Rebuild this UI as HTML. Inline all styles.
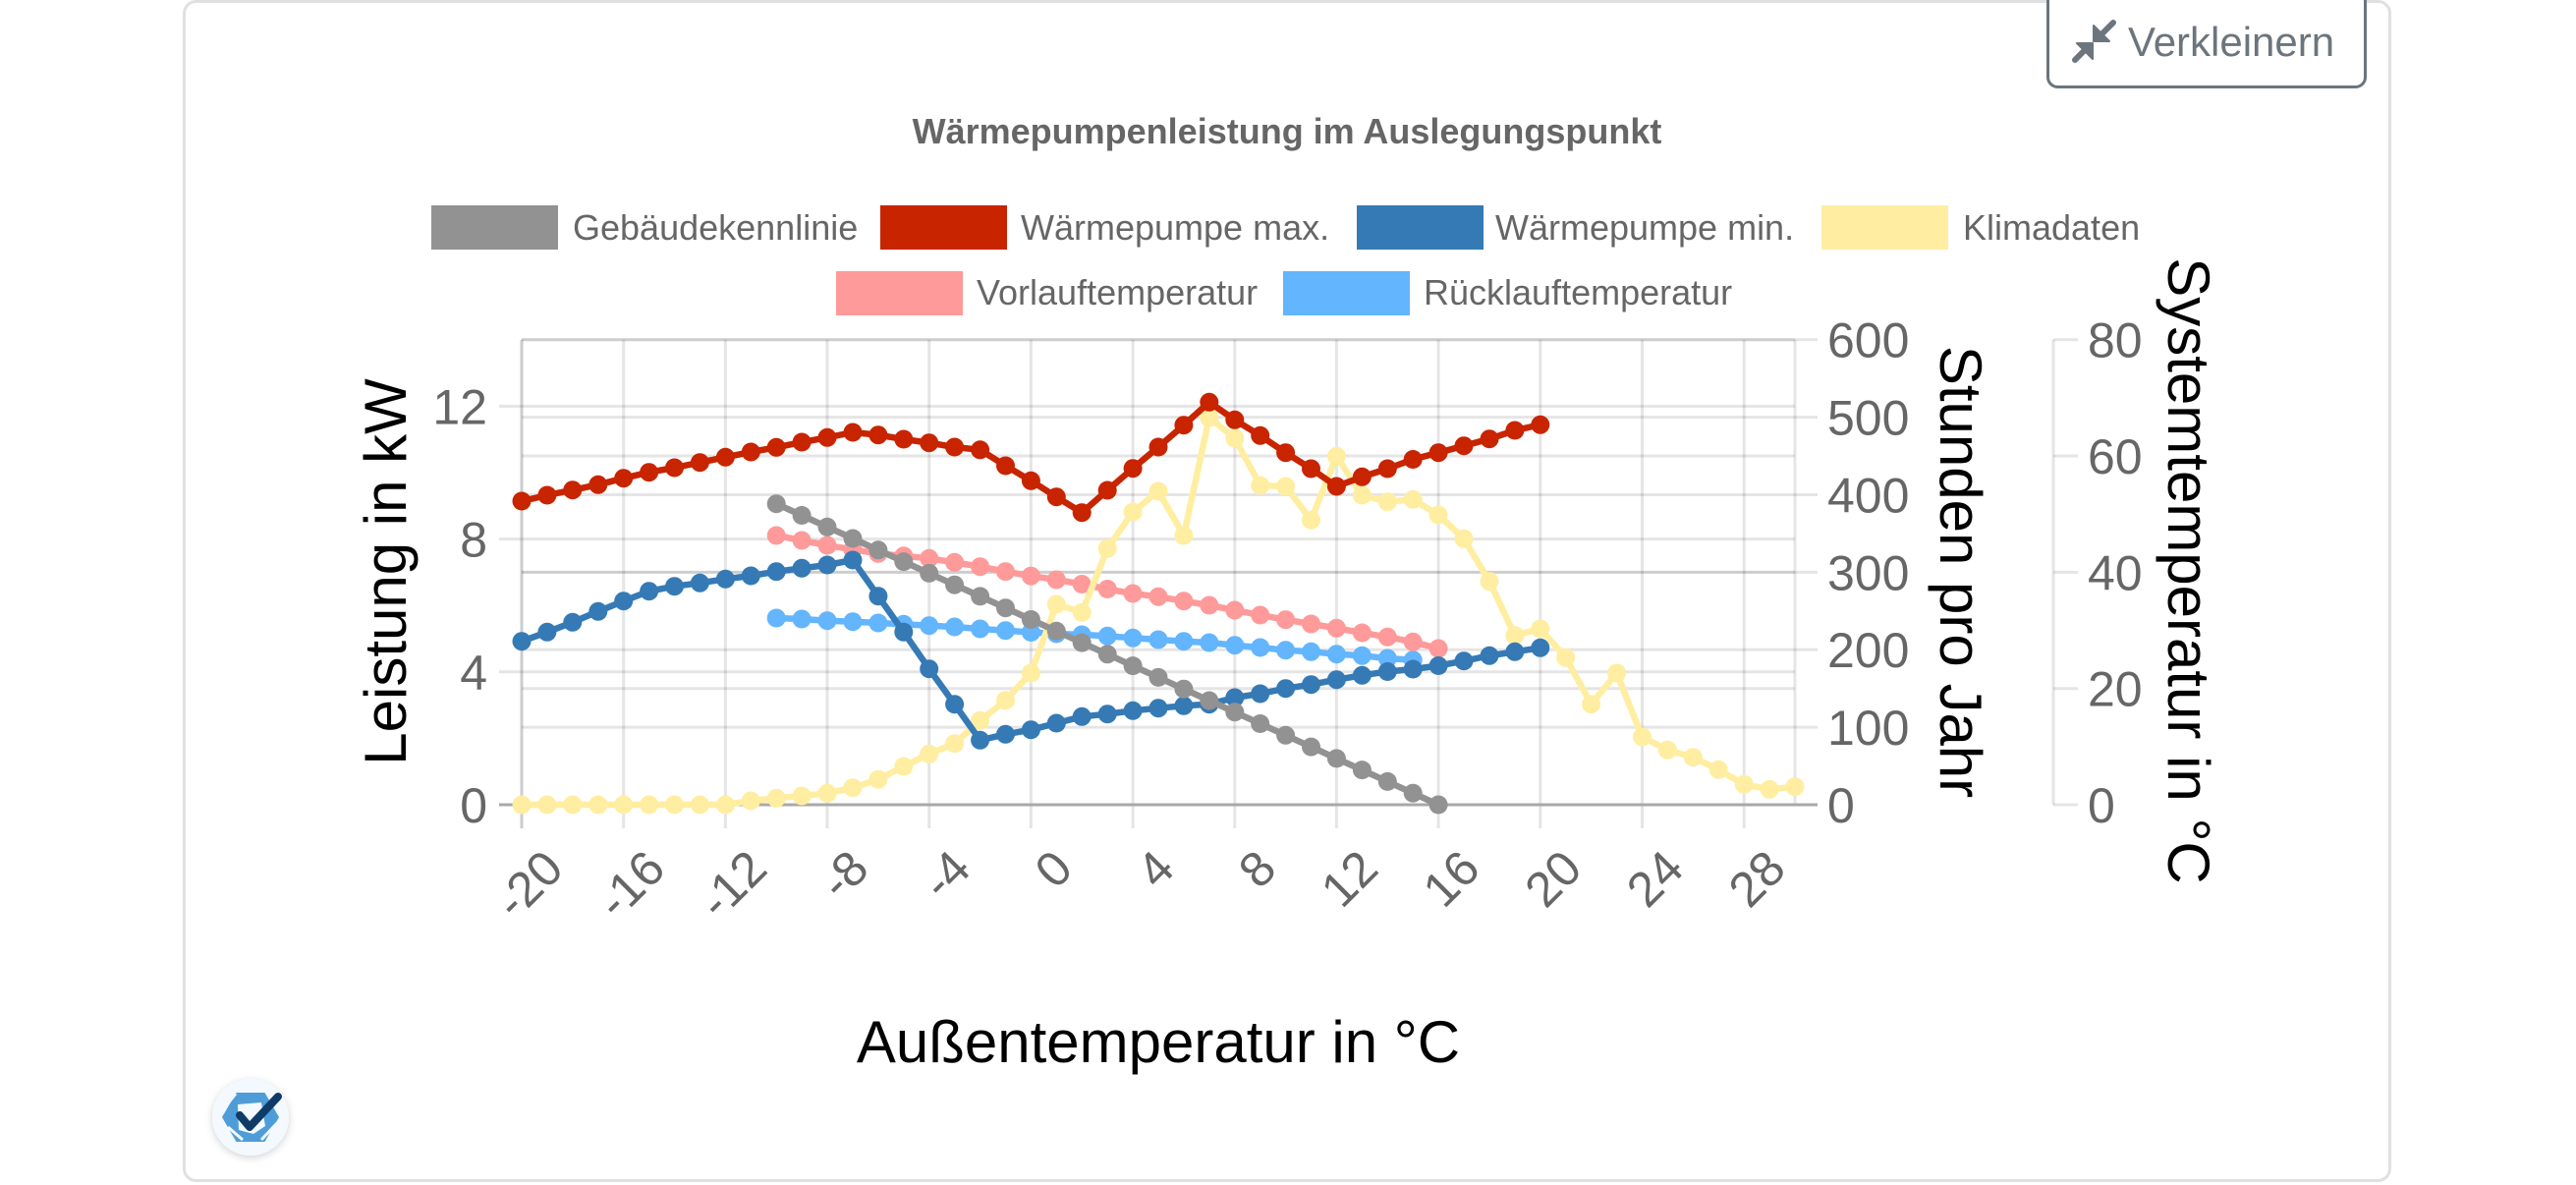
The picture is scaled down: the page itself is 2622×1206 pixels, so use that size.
<!DOCTYPE html>
<html>
<head>
<meta charset="utf-8">
<style>
  html,body{margin:0;padding:0;background:#fff;}
  body{width:2622px;height:1206px;overflow:hidden;}
  svg{display:block;}
  text{font-family:"Liberation Sans",Arial,sans-serif;}
</style>
</head>
<body>
<svg width="2622" height="1206" viewBox="0 0 2622 1206" xmlns="http://www.w3.org/2000/svg">
  <defs>
    <marker id="mGray" markerWidth="22" markerHeight="22" refX="11" refY="11" markerUnits="userSpaceOnUse"><circle cx="11" cy="11" r="9.5" fill="#929292"/></marker>
    <marker id="mRed" markerWidth="22" markerHeight="22" refX="11" refY="11" markerUnits="userSpaceOnUse"><circle cx="11" cy="11" r="9.5" fill="#c82400"/></marker>
    <marker id="mBlue" markerWidth="22" markerHeight="22" refX="11" refY="11" markerUnits="userSpaceOnUse"><circle cx="11" cy="11" r="9.5" fill="#357ab5"/></marker>
    <marker id="mYel" markerWidth="22" markerHeight="22" refX="11" refY="11" markerUnits="userSpaceOnUse"><circle cx="11" cy="11" r="9.5" fill="#ffeea1"/></marker>
    <marker id="mPink" markerWidth="22" markerHeight="22" refX="11" refY="11" markerUnits="userSpaceOnUse"><circle cx="11" cy="11" r="9.5" fill="#ff9a9a"/></marker>
    <marker id="mLBlue" markerWidth="22" markerHeight="22" refX="11" refY="11" markerUnits="userSpaceOnUse"><circle cx="11" cy="11" r="9.5" fill="#63b5fd"/></marker>
    <filter id="sh" x="-50%" y="-50%" width="200%" height="200%">
      <feDropShadow dx="0" dy="2" stdDeviation="4" flood-color="#000" flood-opacity="0.18"/>
    </filter>
  </defs>

  <!-- card -->
  <rect x="187.5" y="1.5" width="2245" height="1200" rx="12" ry="12" fill="#fff" stroke="#e0e0e0" stroke-width="3"/>

  <!-- button -->
  <rect x="2084.5" y="-12" width="323" height="100.5" rx="10" ry="10" fill="#fff" stroke="#6c757d" stroke-width="3"/>
  <g fill="#6c757d" stroke="#6c757d">
    <line x1="2151" y1="23" x2="2138" y2="36" stroke-width="6" stroke-linecap="round"/>
    <polygon points="2131,26 2131,42 2147,42" stroke-width="2" stroke-linejoin="round"/>
    <line x1="2112" y1="61" x2="2124" y2="49" stroke-width="6" stroke-linecap="round"/>
    <polygon points="2114,44 2130,44 2130,60" stroke-width="2" stroke-linejoin="round"/>
  </g>
  <text x="2166" y="57" font-size="42" fill="#6c757d">Verkleinern</text>

  <!-- title -->
  <text x="1310" y="146" font-size="36" font-weight="bold" fill="#666" text-anchor="middle">Wärmepumpenleistung im Auslegungspunkt</text>

  <!-- legend -->
  <g font-size="36" fill="#666">
    <rect x="439" y="209" width="129" height="45" fill="#929292"/>
    <text x="583" y="244">Gebäudekennlinie</text>
    <rect x="896" y="209" width="129" height="45" fill="#c82400"/>
    <text x="1039" y="244">Wärmepumpe max.</text>
    <rect x="1381" y="209" width="129" height="45" fill="#357ab5"/>
    <text x="1522" y="244">Wärmepumpe min.</text>
    <rect x="1854" y="209" width="129" height="45" fill="#ffeea1"/>
    <text x="1998" y="244">Klimadaten</text>
    <rect x="851" y="276" width="129" height="45" fill="#ff9a9a"/>
    <text x="994" y="310">Vorlauftemperatur</text>
    <rect x="1306" y="276" width="129" height="45" fill="#63b5fd"/>
    <text x="1449" y="310">Rücklauftemperatur</text>
  </g>

  <!-- grid -->
  <g stroke="rgba(0,0,0,0.1)" stroke-width="3" fill="none">
    <!-- left axis gridlines -->
    <line x1="508" y1="413.4" x2="1827" y2="413.4"/>
    <line x1="508" y1="548.6" x2="1827" y2="548.6"/>
    <line x1="508" y1="683.8" x2="1827" y2="683.8"/>
    <!-- middle axis gridlines -->
    <line x1="531" y1="345.7" x2="1850" y2="345.7"/>
    <line x1="531" y1="424.6" x2="1850" y2="424.6"/>
    <line x1="531" y1="503.5" x2="1850" y2="503.5"/>
    <line x1="531" y1="582.4" x2="1850" y2="582.4"/>
    <line x1="531" y1="661.2" x2="1850" y2="661.2"/>
    <line x1="531" y1="740.1" x2="1850" y2="740.1"/>
    <!-- right axis gridlines -->
    <line x1="531" y1="345.7" x2="1827" y2="345.7"/>
    <line x1="531" y1="464.0" x2="1827" y2="464.0"/>
    <line x1="531" y1="582.4" x2="1827" y2="582.4"/>
    <line x1="531" y1="700.7" x2="1827" y2="700.7"/>
    <line x1="2090" y1="345.7" x2="2115" y2="345.7"/>
    <line x1="2090" y1="464.0" x2="2115" y2="464.0"/>
    <line x1="2090" y1="582.4" x2="2115" y2="582.4"/>
    <line x1="2090" y1="700.7" x2="2115" y2="700.7"/>
    <line x1="2090" y1="819" x2="2115" y2="819"/>
    <line x1="2090" y1="345.7" x2="2090" y2="819"/>
    <!-- vertical -->
    <line x1="531" y1="345.7" x2="531" y2="843"/>
    <line x1="531" y1="345.7" x2="531" y2="843"/>
    <line x1="634.7" y1="345.7" x2="634.7" y2="843"/>
    <line x1="738.4" y1="345.7" x2="738.4" y2="843"/>
    <line x1="842" y1="345.7" x2="842" y2="843"/>
    <line x1="945.7" y1="345.7" x2="945.7" y2="843"/>
    <line x1="1049.4" y1="345.7" x2="1049.4" y2="843"/>
    <line x1="1153.1" y1="345.7" x2="1153.1" y2="843"/>
    <line x1="1256.8" y1="345.7" x2="1256.8" y2="843"/>
    <line x1="1360.4" y1="345.7" x2="1360.4" y2="843"/>
    <line x1="1464.1" y1="345.7" x2="1464.1" y2="843"/>
    <line x1="1567.8" y1="345.7" x2="1567.8" y2="843"/>
    <line x1="1671.5" y1="345.7" x2="1671.5" y2="843"/>
    <line x1="1775.2" y1="345.7" x2="1775.2" y2="843"/>
    <line x1="1827" y1="345.7" x2="1827" y2="819"/>
  </g>
  <line x1="508" y1="819" x2="1850" y2="819" stroke="#a8a8a8" stroke-width="3"/>

  <!-- series (bottom to top) -->
  <g fill="none" stroke-width="6.5" stroke-linejoin="round">
    <polyline stroke="#63b5fd" marker-start="url(#mLBlue)" marker-mid="url(#mLBlue)" marker-end="url(#mLBlue)"
      points="790.2,629 816.1,630 842,631.7 868,632.7 893.9,634 919.8,635.3 945.7,636.7 971.6,638 997.6,640 1023.5,641.7 1049.4,643.5 1075.3,645 1101.2,646 1127.2,647.3 1153.1,649.3 1179,651 1204.9,652.7 1230.8,654 1256.8,656.7 1282.7,659 1308.6,661.7 1334.5,663.3 1360.4,665.7 1386.4,667.3 1412.3,670 1438.2,671.7"/>
    <polyline stroke="#ff9a9a" marker-start="url(#mPink)" marker-mid="url(#mPink)" marker-end="url(#mPink)"
      points="790.2,545 816.1,550 842,555 868,559.3 893.9,563.3 919.8,565.8 945.7,568.3 971.6,572.3 997.6,576.7 1023.5,581.7 1049.4,586.2 1075.3,590 1101.2,594.5 1127.2,599.5 1153.1,604 1179,607.3 1204.9,611.7 1230.8,616 1256.8,621 1282.7,626 1308.6,630.7 1334.5,635 1360.4,639.3 1386.4,644 1412.3,648.3 1438.2,653.3 1464.1,660"/>
    <polyline stroke="#ffeea1" marker-start="url(#mYel)" marker-mid="url(#mYel)" marker-end="url(#mYel)"
      points="531,819 556.9,819 582.8,819 608.8,819 634.7,819 660.6,819 686.5,819 712.4,819 738.4,819 764.3,815 790.2,812.3 816.1,810 842,807.3 868,801.7 893.9,793.3 919.8,780 945.7,767.3 971.6,756.7 997.6,733.3 1023.5,712.7 1049.4,685 1075.3,615 1101.2,623.3 1127.2,558.3 1153.1,521 1179,500 1204.9,545 1230.8,425 1256.8,446 1282.7,494 1308.6,495 1334.5,529.3 1360.4,464.3 1386.4,504 1412.3,510.7 1438.2,508.3 1464.1,524 1490,548.3 1516,591.7 1541.9,646.7 1567.8,640 1593.7,669.3 1619.6,716.7 1645.6,685 1671.5,750 1697.4,763.3 1723.3,770.7 1749.2,783.3 1775.2,798.3 1801.1,803.3 1827,800.7"/>
    <polyline stroke="#357ab5" marker-start="url(#mBlue)" marker-mid="url(#mBlue)" marker-end="url(#mBlue)"
      points="531,652.7 556.9,643.3 582.8,633.3 608.8,622.3 634.7,611.7 660.6,601.7 686.5,596.7 712.4,593.3 738.4,589.3 764.3,586 790.2,581.7 816.1,578.3 842,575 868,570 893.9,606.7 919.8,643.3 945.7,680.7 971.6,716.7 997.6,753.3 1023.5,747.3 1049.4,742.7 1075.3,736 1101.2,729.3 1127.2,726.7 1153.1,723.3 1179,720.7 1204.9,718.3 1230.8,716.7 1256.8,710 1282.7,706 1308.6,700.7 1334.5,696.7 1360.4,691.7 1386.4,687.3 1412.3,683.5 1438.2,681 1464.1,677.5 1490,672.7 1516,667.3 1541.9,663.3 1567.8,659.3"/>
    <polyline stroke="#c82400" marker-start="url(#mRed)" marker-mid="url(#mRed)" marker-end="url(#mRed)"
      points="531,510 556.9,504 582.8,498.7 608.8,493.3 634.7,486.7 660.6,480.7 686.5,476 712.4,470.7 738.4,465.3 764.3,460 790.2,455.3 816.1,450 842,445.3 868,440 893.9,442.7 919.8,447 945.7,450.7 971.6,455 997.6,457.8 1023.5,474 1049.4,489.3 1075.3,505.7 1101.2,521.7 1127.2,499 1153.1,476.7 1179,455 1204.9,432.7 1230.8,409.3 1256.8,427.3 1282.7,443.3 1308.6,460.7 1334.5,477 1360.4,495 1386.4,485.3 1412.3,477 1438.2,467.5 1464.1,460.7 1490,453.7 1516,446.7 1541.9,438 1567.8,432.3"/>
    <polyline stroke="#929292" marker-start="url(#mGray)" marker-mid="url(#mGray)" marker-end="url(#mGray)"
      points="790.2,512.7 816.1,524.5 842,536.3 868,548 893.9,559.8 919.8,571.6 945.7,583.4 971.6,595.2 997.6,606.9 1023.5,618.7 1049.4,630.5 1075.3,642.3 1101.2,654.1 1127.2,665.8 1153.1,677.6 1179,689.4 1204.9,701.2 1230.8,713 1256.8,724.7 1282.7,736.5 1308.6,748.3 1334.5,760.1 1360.4,771.9 1386.4,783.6 1412.3,795.4 1438.2,807.2 1464.1,819"/>
  </g>

  <!-- left axis labels -->
  <g font-size="50" fill="#666" text-anchor="end">
    <text x="496" y="431.4">12</text>
    <text x="496" y="566.6">8</text>
    <text x="496" y="701.8">4</text>
    <text x="496" y="837">0</text>
  </g>
  <!-- middle axis labels -->
  <g font-size="50" fill="#666">
    <text x="1860" y="363.7">600</text>
    <text x="1860" y="442.6">500</text>
    <text x="1860" y="521.5">400</text>
    <text x="1860" y="600.4">300</text>
    <text x="1860" y="679.2">200</text>
    <text x="1860" y="758.1">100</text>
    <text x="1860" y="837">0</text>
  </g>
  <!-- right axis labels -->
  <g font-size="50" fill="#666">
    <text x="2125" y="363.7">80</text>
    <text x="2125" y="482">60</text>
    <text x="2125" y="600.4">40</text>
    <text x="2125" y="718.7">20</text>
    <text x="2125" y="837">0</text>
  </g>
  <!-- x labels -->
  <g font-size="50" fill="#666" text-anchor="end">
    <text transform="translate(563,874) rotate(-45)" dy="18">-20</text>
    <text transform="translate(666.7,874) rotate(-45)" dy="18">-16</text>
    <text transform="translate(770.4,874) rotate(-45)" dy="18">-12</text>
    <text transform="translate(874,874) rotate(-45)" dy="18">-8</text>
    <text transform="translate(977.7,874) rotate(-45)" dy="18">-4</text>
    <text transform="translate(1081.4,874) rotate(-45)" dy="18">0</text>
    <text transform="translate(1185.1,874) rotate(-45)" dy="18">4</text>
    <text transform="translate(1288.8,874) rotate(-45)" dy="18">8</text>
    <text transform="translate(1392.4,874) rotate(-45)" dy="18">12</text>
    <text transform="translate(1496.1,874) rotate(-45)" dy="18">16</text>
    <text transform="translate(1599.8,874) rotate(-45)" dy="18">20</text>
    <text transform="translate(1703.5,874) rotate(-45)" dy="18">24</text>
    <text transform="translate(1807.2,874) rotate(-45)" dy="18">28</text>
  </g>

  <!-- axis titles -->
  <g font-size="60" fill="#000" text-anchor="middle">
    <text transform="translate(413,582) rotate(-90)">Leistung in kW</text>
    <text transform="translate(1975,582) rotate(90)">Stunden pro Jahr</text>
    <text transform="translate(2207,581) rotate(90)">Systemtemperatur in °C</text>
    <text x="1179" y="1081">Außentemperatur in °C</text>
  </g>

  <!-- logo -->
  <circle cx="255" cy="1137" r="39" fill="#f3f9fe" filter="url(#sh)"/>
  <polygon points="284,1137 269.5,1162 240.5,1162 226,1137 240.5,1112 269.5,1112" fill="#4f9dd8"/>
  <path d="M242,1124 L266,1122 L270,1146 L258,1154 L243,1150 Z" fill="#f3f9fe"/>
  <path d="M232,1147 L247,1160 M266,1160 L282,1143 M228,1128 L240,1113" stroke="#f3f9fe" stroke-width="3" fill="none"/>
  <path d="M244,1135 L254,1147 L283,1116" stroke="#0f3b68" stroke-width="8" fill="none" stroke-linecap="round" stroke-linejoin="round"/>
</svg>
</body>
</html>
